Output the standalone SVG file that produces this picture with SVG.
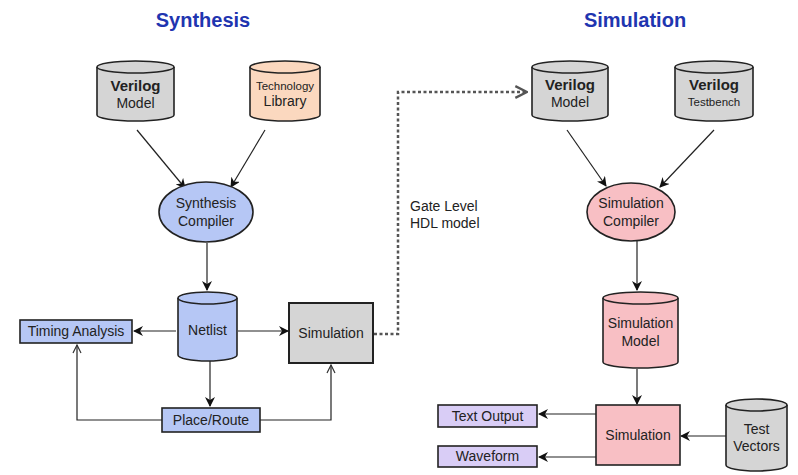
<svg xmlns="http://www.w3.org/2000/svg" width="798" height="475" viewBox="0 0 798 475">
<defs>
<marker id="ah" viewBox="0 0 10 10" refX="9" refY="5" markerWidth="10" markerHeight="10" markerUnits="userSpaceOnUse" orient="auto">
<path d="M0,0 L10,5 L0,10 L3,5 Z" fill="#111"/>
</marker>
<marker id="ao" viewBox="0 0 10 10" refX="9" refY="5" markerWidth="10" markerHeight="10" markerUnits="userSpaceOnUse" orient="auto">
<path d="M1,1 L9,5 L1,9" fill="none" stroke="#333" stroke-width="1.2"/>
</marker>
<marker id="ad" viewBox="0 0 12 12" refX="11" refY="6" markerWidth="14" markerHeight="14" markerUnits="userSpaceOnUse" orient="auto">
<path d="M1,1 L11,6 L1,11" fill="none" stroke="#555" stroke-width="2"/>
</marker>
</defs>
<style>
.t{font-family:"Liberation Sans",Arial,sans-serif;font-size:14px;fill:#222;text-anchor:middle}
.b{font-weight:bold;font-size:15px}
.s{font-size:11.5px}
.title{font-family:"Liberation Sans",Arial,sans-serif;font-size:20px;font-weight:bold;fill:#1f35b0;text-anchor:middle}
.sh{stroke:#222;stroke-width:1.6}
.gray{fill:#d5d5d5}
.peach{fill:#fbd8bf}
.blue{fill:#b6c7f5}
.pink{fill:#f8bfc4}
.lav{fill:#d9cdf6}
.c{fill:none;stroke:#222;stroke-width:1.2}
</style>
<rect width="798" height="475" fill="#ffffff"/>
<text class="title" x="203" y="27">Synthesis</text>
<text class="title" x="635" y="27">Simulation</text>

<g id="connectors">
<line class="c" x1="137" y1="130" x2="185" y2="188" marker-end="url(#ah)"/>
<line class="c" x1="265" y1="130" x2="231" y2="187" marker-end="url(#ah)"/>
<line class="c" x1="207" y1="243" x2="207" y2="290" marker-end="url(#ah)"/>
<line class="c" x1="176" y1="331" x2="134" y2="331" marker-end="url(#ah)"/>
<line class="c" x1="238" y1="331" x2="288" y2="331" marker-end="url(#ah)"/>
<line class="c" x1="210" y1="361" x2="210" y2="406" marker-end="url(#ah)"/>
<polyline class="c" points="162,420 77,420 77,345" marker-end="url(#ao)"/>
<polyline class="c" points="260,420 331,420 331,365" marker-end="url(#ao)"/>
<polyline points="374,334 398,334 398,92 527,92" fill="none" stroke="#555" stroke-width="2.5" stroke-dasharray="3,2.5" marker-end="url(#ad)"/>
<line class="c" x1="567" y1="130" x2="606" y2="186" marker-end="url(#ah)"/>
<line class="c" x1="714" y1="130" x2="660" y2="187" marker-end="url(#ah)"/>
<line class="c" x1="637" y1="241" x2="637" y2="290" marker-end="url(#ah)"/>
<line class="c" x1="637" y1="369" x2="637" y2="404" marker-end="url(#ah)"/>
<line class="c" x1="596" y1="414" x2="539" y2="414" marker-end="url(#ah)"/>
<line class="c" x1="596" y1="457" x2="539" y2="457" marker-end="url(#ah)"/>
<line class="c" x1="726" y1="436" x2="681" y2="436" marker-end="url(#ah)"/>
</g>

<g id="verilog-model-syn">
<path class="gray sh" d="M97,67 L97,115 A38.5,6 0 0 0 174,115 L174,67"/>
<ellipse class="gray sh" cx="135.5" cy="67" rx="38.5" ry="6"/>
<text class="t b" x="135.5" y="91">Verilog</text>
<text class="t" x="135.5" y="108">Model</text>
</g>
<g id="technology-library">
<path class="peach sh" d="M250,67 L250,115 A35,6 0 0 0 320,115 L320,67"/>
<ellipse class="peach sh" cx="285" cy="67" rx="35" ry="6"/>
<text class="t s" x="285" y="90">Technology</text>
<text class="t" x="285" y="106">Library</text>
</g>
<g id="synthesis-compiler">
<ellipse class="blue sh" cx="206" cy="212" rx="47" ry="30"/>
<text class="t" x="206" y="208">Synthesis</text>
<text class="t" x="206" y="226">Compiler</text>
</g>
<g id="netlist">
<path class="blue sh" d="M178,298 L178,355 A29.5,6 0 0 0 237,355 L237,298"/>
<ellipse class="blue sh" cx="207.5" cy="298" rx="29.5" ry="6"/>
<text class="t" x="207.5" y="335">Netlist</text>
</g>
<g id="timing-analysis">
<rect class="blue sh" x="20" y="320" width="112" height="23"/>
<text class="t" x="76" y="336">Timing Analysis</text>
</g>
<g id="simulation-syn">
<rect class="gray sh" x="289" y="303" width="84" height="60" style="stroke-width:2"/>
<text class="t" x="331" y="338">Simulation</text>
</g>
<g id="place-route">
<rect class="blue sh" x="162" y="408" width="98" height="24"/>
<text class="t" x="211" y="425">Place/Route</text>
</g>
<g id="gate-level-label">
<text class="t" x="410" y="211" style="text-anchor:start">Gate Level</text>
<text class="t" x="410" y="228" style="text-anchor:start">HDL model</text>
</g>
<g id="verilog-model-sim">
<path class="gray sh" d="M532,67 L532,115 A38,6 0 0 0 608,115 L608,67"/>
<ellipse class="gray sh" cx="570" cy="67" rx="38" ry="6"/>
<text class="t b" x="570" y="90">Verilog</text>
<text class="t" x="570" y="107">Model</text>
</g>
<g id="verilog-testbench">
<path class="gray sh" d="M675,67 L675,115 A39,6 0 0 0 753,115 L753,67"/>
<ellipse class="gray sh" cx="714" cy="67" rx="39" ry="6"/>
<text class="t b" x="714" y="90">Verilog</text>
<text class="t s" x="714" y="106">Testbench</text>
</g>
<g id="simulation-compiler">
<ellipse class="pink sh" cx="631" cy="212" rx="44" ry="29"/>
<text class="t" x="631" y="208">Simulation</text>
<text class="t" x="631" y="226">Compiler</text>
</g>
<g id="simulation-model">
<path class="pink sh" d="M603,298 L603,362 A37.5,6 0 0 0 678,362 L678,298"/>
<ellipse class="pink sh" cx="640.5" cy="298" rx="37.5" ry="6"/>
<text class="t" x="640.5" y="328">Simulation</text>
<text class="t" x="640.5" y="346">Model</text>
</g>
<g id="simulation-sim">
<rect class="pink sh" x="596" y="405" width="84" height="60"/>
<text class="t" x="638" y="440">Simulation</text>
</g>
<g id="text-output">
<rect class="lav sh" x="438" y="405" width="99" height="22"/>
<text class="t" x="487.5" y="421">Text Output</text>
</g>
<g id="waveform">
<rect class="lav sh" x="438" y="446" width="99" height="21"/>
<text class="t" x="487.5" y="461">Waveform</text>
</g>
<g id="test-vectors">
<path class="gray sh" d="M726,405 L726,465 A30.5,6 0 0 0 787,465 L787,405"/>
<ellipse class="gray sh" cx="756.5" cy="405" rx="30.5" ry="6"/>
<text class="t" x="756.5" y="434">Test</text>
<text class="t" x="756.5" y="451">Vectors</text>
</g>
</svg>
